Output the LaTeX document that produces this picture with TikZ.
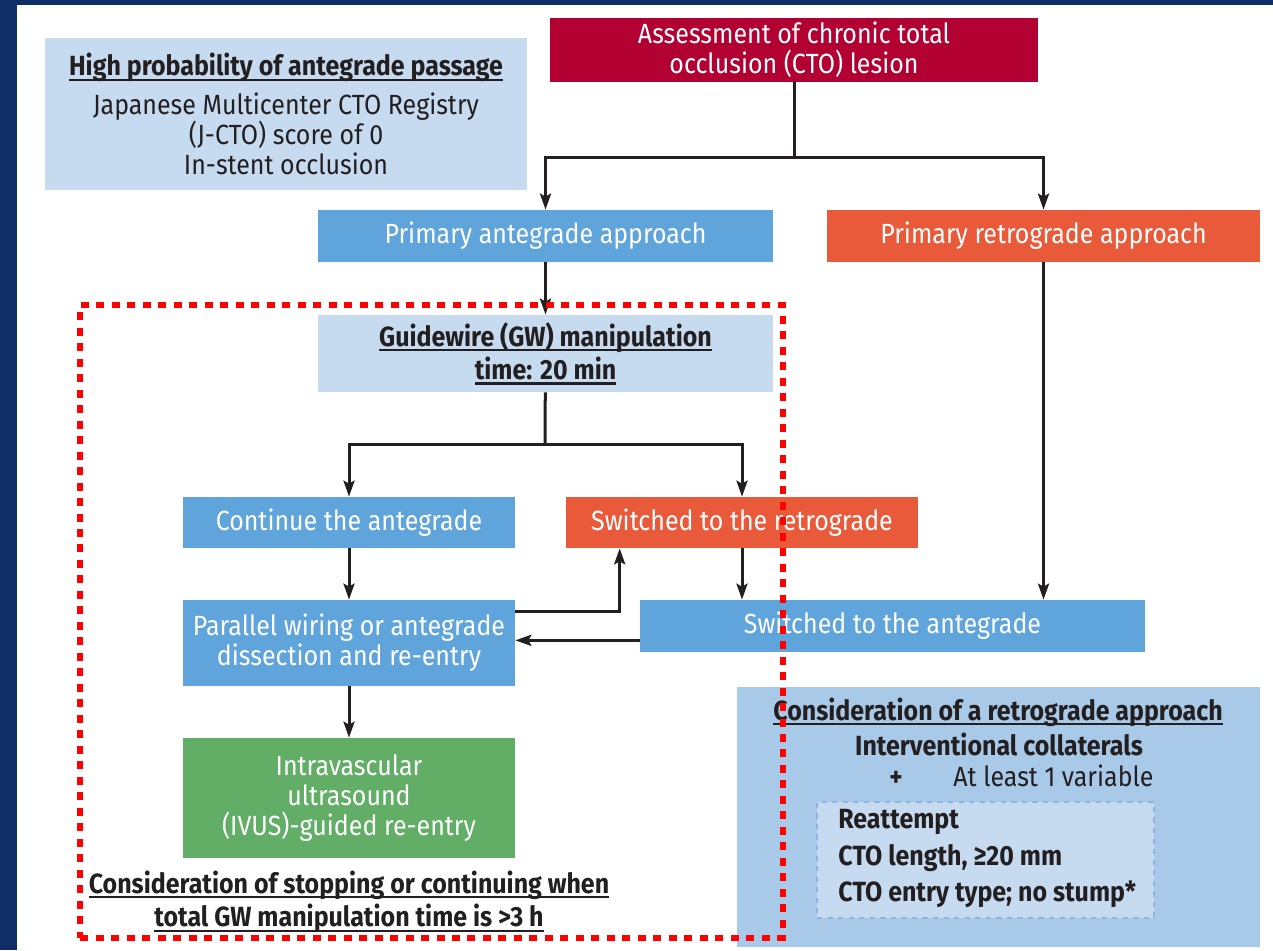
\documentclass[tikz,border=0pt]{standalone}
\usepackage{fontspec}
\setmainfont{Fira Sans}[FakeStretch=0.9]
\usetikzlibrary{arrows.meta,calc}

\definecolor{framebg}{HTML}{0F2D66}
\definecolor{ctored}{HTML}{B20033}
\definecolor{antblue}{HTML}{5FA4DA}
\definecolor{retorange}{HTML}{E95A3B}
\definecolor{ivusgreen}{HTML}{63AE67}
\definecolor{paleblue}{HTML}{C6DBF0}
\definecolor{consblue}{HTML}{A9C9E9}
\definecolor{dashblue}{HTML}{8DB6E0}
\definecolor{ink}{HTML}{231F20}

\newlength\ulwd
\newcommand\ulbox[1]{\settowidth\ulwd{#1}\rlap{\rule[-2.8pt]{\ulwd}{1.2pt}}#1}

\tikzset{
  flowbox/.style={inner sep=0pt, align=center, text=white, font=\fontsize{15.8}{17}\selectfont},
  notebox/.style={inner sep=0pt, align=center, text=ink, fill=paleblue, font=\fontsize{15.8}{17}\selectfont},
  note/.style={inner sep=0pt, align=center, text=ink, font=\fontsize{15.8}{17}\selectfont, text height=1.45ex, text depth=0.35ex},
  conn/.style={draw=ink, line width=0.06cm},
  arr/.style={conn, -{Stealth[length=0.32cm, width=0.22cm, inset=0.06cm]}},
  zone/.style={draw=red, line width=0.12cm, dash pattern=on 0.16cm off 0.15cm, inner sep=0pt}
}

\begin{document}
\begin{tikzpicture}[x=0.02cm, y=-0.02cm]
  \useasboundingbox (0,0) rectangle (1273,950);
  \fill[framebg] (0,0) rectangle (1273,5);
  \fill[framebg] (0,0) rectangle (17,950);

  % top
  \node[flowbox, fill=ctored, minimum width=9.76cm, minimum height=1.28cm] (assess) at (794,50)
    {Assessment of chronic total\\occlusion (CTO) lesion};
  \node[notebox, minimum width=9.64cm, minimum height=3.04cm] (hiprob) at (286,114)
    {\ulbox{\textbf{High probability of antegrade passage}}\\[5pt]
     Japanese Multicenter CTO Registry\\(J-CTO) score of 0\\In-stent occlusion};

  % primary approaches
  \node[flowbox, fill=antblue, minimum width=9.10cm, minimum height=1.04cm] (pante) at (545.5,236)
    {Primary antegrade approach};
  \node[flowbox, fill=retorange, minimum width=8.66cm, minimum height=1.04cm] (pretro) at (1043.5,236)
    {Primary retrograde approach};
  \coordinate (split1) at (794,157);
  \draw[conn] (assess) -- (split1);
  \draw[arr] (split1) -| (pante);
  \draw[arr] (split1) -| (pretro);

  % antegrade branch
  \node[notebox, minimum width=9.10cm, minimum height=1.54cm] (gw) at (545.5,353.5)
    {\ulbox{\textbf{Guidewire (GW) manipulation}}\\[2pt]\ulbox{\textbf{time: 20 min}}};
  \draw[arr] (pante) -- (gw);

  \node[flowbox, fill=antblue, minimum width=6.64cm, minimum height=1.02cm] (cont) at (349,522.5)
    {Continue the antegrade};
  \node[flowbox, fill=retorange, minimum width=7.04cm, minimum height=1.02cm] (swr) at (742,522.5)
    {Switched to the retrograde};
  \coordinate (split2) at (545,444);
  \draw[conn] (gw) -- (split2);
  \draw[arr] (split2) -| (cont);
  \draw[arr] (split2) -| (swr);

  \node[flowbox, fill=antblue, minimum width=6.64cm, minimum height=1.72cm] (par) at (349,643)
    {Parallel wiring or antegrade\\dissection and re-entry};
  \node[flowbox, fill=antblue, minimum width=10.10cm, minimum height=1.04cm] (swa) at (892.5,626)
    {Switched to the antegrade};
  \node[flowbox, fill=ivusgreen, minimum width=6.64cm, minimum height=2.40cm] (ivus) at (349,798)
    {Intravascular\\ultrasound\\(IVUS)-guided re-entry};
  \draw[arr] (cont) -- (par);
  \draw[arr] (par) -- (ivus);
  \draw[arr] ($(par.north east)+(0,12)$) -| ($(swr.south west)+(54,0)$);
  \draw[arr] (swr) -- (swr |- swa.north);
  \draw[arr] (pretro) -- (pretro |- swa.north);
  \draw[arr] ($(swa.south west)+(0,-12)$) coordinate (back) -- (back -| par.east);

  \node[note, text height=, text depth=] (stop) at (349,902)
    {\ulbox{\textbf{Consideration of stopping or continuing when}}\\[2pt]
     \ulbox{\textbf{total GW manipulation time is >3 h}}};

  % retrograde criteria
  \node[fill=consblue, minimum width=10.46cm, minimum height=5.20cm, inner sep=0pt] (cons) at (998.5,817) {};
  \node[note] (constitle) at (998,715) {\ulbox{\textbf{Consideration of a retrograde approach}}};
  \node[note] (collat) at (999,750) {\textbf{Interventional collaterals}};
  \node[note] (plus) at (896,781) {\textbf{+}};
  \node[note, anchor=west] (atleast) at (953,781) {At least 1 variable};
  \node[draw=dashblue, line width=0.04cm, dashed, fill=paleblue, minimum width=6.74cm, minimum height=2.32cm, inner sep=0pt] (crit) at (985.5,860) {};
  \node[note, anchor=west] (reatt) at (838,823) {\textbf{Reattempt}};
  \node[note, anchor=west] (len) at (838,860) {\textbf{CTO length, ≥20 mm}};
  \node[note, anchor=west] (entry) at (838,896) {\textbf{CTO entry type; no stump*}};

  % dotted frame on top
  \node[zone, minimum width=14.06cm, minimum height=12.66cm] (gwzone) at (431.5,621.5) {};
\end{tikzpicture}
\end{document}
